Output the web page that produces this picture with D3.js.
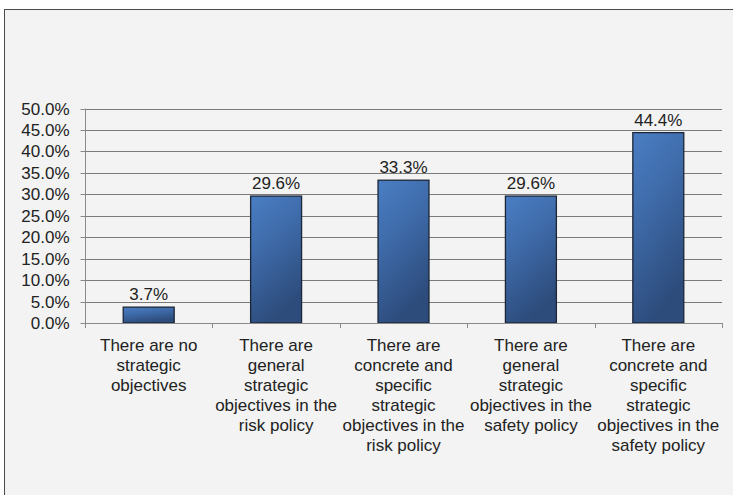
<!DOCTYPE html>
<html>
<head>
<meta charset="utf-8">
<script src="https://cdn.jsdelivr.net/npm/d3@7"></script>
<style>
  html, body { margin: 0; padding: 0; background: #fff; }
  svg { display: block; font-family: "Liberation Sans", Arial, sans-serif; }
</style>
</head>
<body>
<svg id="chart" width="733" height="495"></svg>
<script>
// Survey answers on strategic objectives (share of respondents, %)
const categories = [
  ["There are no", "strategic", "objectives"],
  ["There are", "general", "strategic", "objectives in the", "risk policy"],
  ["There are", "concrete and", "specific", "strategic", "objectives in the", "risk policy"],
  ["There are", "general", "strategic", "objectives in the", "safety policy"],
  ["There are", "concrete and", "specific", "strategic", "objectives in the", "safety policy"]
];
const values = [3.7, 29.6, 33.3, 29.6, 44.4];
const yTicks = [0, 5, 10, 15, 20, 25, 30, 35, 40, 45, 50];

const svg = d3.select("#chart");
const W = 733, H = 495;
const plot = { left: 85, right: 722, top: 108.6, bottom: 323 };
const FS = "17px";

// panel background and frame
svg.append("rect").attr("x", 0).attr("y", 0).attr("width", W).attr("height", H).attr("fill", "#ffffff");
svg.append("rect").attr("x", 4.5).attr("y", 9.5).attr("width", W + 10).attr("height", H + 10)
  .attr("fill", "#f2f3f2").attr("stroke", "#4a4a4a").attr("stroke-width", 1);

const x = d3.scaleBand().domain(d3.range(values.length)).range([plot.left, plot.right]).paddingInner(0.6).paddingOuter(0.3);
const xCat = d3.scaleBand().domain(d3.range(values.length)).range([plot.left, plot.right]);
const y = d3.scaleLinear().domain([0, 50]).range([plot.bottom, plot.top]);

const defs = svg.append("defs");
const grad = defs.append("linearGradient").attr("id", "barGrad")
  .attr("x1", "0").attr("y1", "0").attr("x2", "0.35").attr("y2", "1");
grad.append("stop").attr("offset", "0%").attr("stop-color", "#4a7ec4");
grad.append("stop").attr("offset", "45%").attr("stop-color", "#3e6aa8");
grad.append("stop").attr("offset", "100%").attr("stop-color", "#2d4c7c");

// horizontal gridlines
svg.append("g").selectAll("line").data(yTicks.slice(1)).join("line")
  .attr("x1", plot.left).attr("x2", plot.right)
  .attr("y1", d => Math.round(y(d)) + 0.5).attr("y2", d => Math.round(y(d)) + 0.5)
  .attr("stroke", "#7a7a7a").attr("stroke-width", 1);

// y axis
const yAxis = svg.append("g").attr("transform", `translate(${plot.left + 0.5},0)`)
  .call(d3.axisLeft(y).tickValues(yTicks).tickSize(5).tickPadding(11).tickFormat(d => d.toFixed(1) + "%"));
yAxis.select(".domain").attr("stroke", "#8a8a8a").attr("d", `M-0,${plot.top}V${plot.bottom}`);
yAxis.selectAll(".tick line").attr("stroke", "#8a8a8a");
yAxis.selectAll(".tick").attr("transform", d => `translate(0,${Math.round(y(d)) + 0.5})`);
yAxis.selectAll("text").attr("font-size", FS).attr("fill", "#222").attr("font-family", "Liberation Sans, Arial, sans-serif");

// bars
svg.append("g").selectAll("rect").data(values).join("rect")
  .attr("x", (d, i) => x(i))
  .attr("y", d => y(d))
  .attr("width", x.bandwidth())
  .attr("height", d => plot.bottom - y(d))
  .attr("fill", "url(#barGrad)")
  .attr("stroke", "#1c2636").attr("stroke-width", 1.3);

// x axis baseline with category separators
const xg = svg.append("g");
xg.append("line").attr("x1", plot.left).attr("x2", plot.right)
  .attr("y1", plot.bottom + 0.5).attr("y2", plot.bottom + 0.5).attr("stroke", "#8a8a8a");
const seps = d3.range(values.length + 1).map(i => i < values.length ? xCat(i) : plot.right);
xg.selectAll("line.sep").data(seps).join("line").attr("class", "sep")
  .attr("x1", d => Math.round(d) + 0.5).attr("x2", d => Math.round(d) + 0.5)
  .attr("y1", plot.bottom).attr("y2", plot.bottom + 5).attr("stroke", "#8a8a8a");

// value labels
svg.append("g").selectAll("text").data(values).join("text")
  .attr("x", (d, i) => x(i) + x.bandwidth() / 2)
  .attr("y", d => y(d) - 7)
  .attr("text-anchor", "middle").attr("font-size", FS).attr("fill", "#222")
  .text(d => d.toFixed(1) + "%");

// category labels
const cl = svg.append("g").selectAll("text").data(categories).join("text")
  .attr("x", (d, i) => xCat(i) + xCat.bandwidth() / 2)
  .attr("y", 351)
  .attr("text-anchor", "middle").attr("font-size", FS).attr("fill", "#222");
cl.selectAll("tspan").data(d => d).join("tspan")
  .attr("x", function () { return d3.select(this.parentNode).attr("x"); })
  .attr("dy", (d, i) => i === 0 ? 0 : 20)
  .text(d => d);
</script>
</body>
</html>
